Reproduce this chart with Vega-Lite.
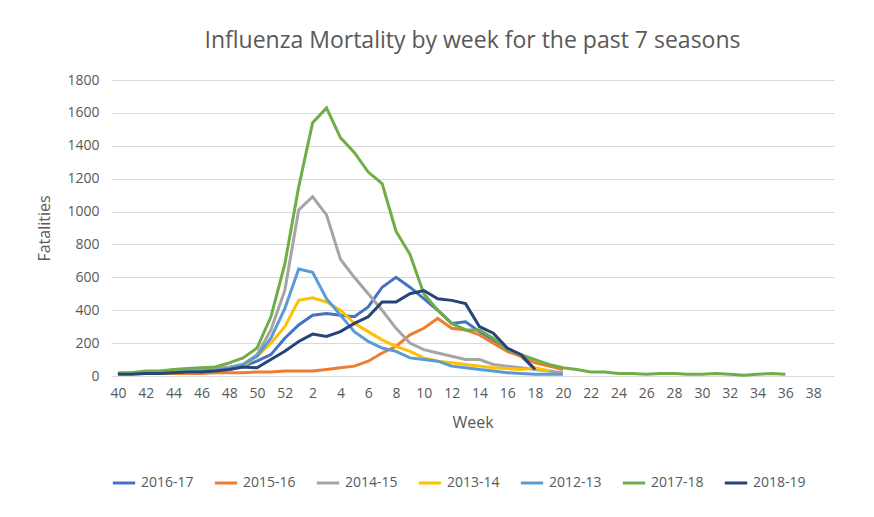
{
  "$schema": "https://vega.github.io/schema/vega-lite/v6.json",
  "width": 723,
  "height": 296,
  "padding": {"left": 36, "top": 30, "right": 20, "bottom": 10},
  "background": "white",
  "title": {"text": "Influenza Mortality by week for the past 7 seasons", "fontSize": 23, "font": "Open Sans", "fontWeight": "normal", "color": "#595959", "offset": 20},
  "config": {"view": {"stroke": null}, "font": "Open Sans"},
  "data": {"values": [
    {"w":"40","2016-17":15,"2015-16":15,"2014-15":20,"2013-14":15,"2012-13":15,"2017-18":15,"2018-19":10},
    {"w":"41","2016-17":15,"2015-16":15,"2014-15":20,"2013-14":15,"2012-13":15,"2017-18":20,"2018-19":10},
    {"w":"42","2016-17":20,"2015-16":15,"2014-15":25,"2013-14":15,"2012-13":20,"2017-18":30,"2018-19":15},
    {"w":"43","2016-17":20,"2015-16":15,"2014-15":25,"2013-14":20,"2012-13":20,"2017-18":30,"2018-19":15},
    {"w":"44","2016-17":25,"2015-16":15,"2014-15":30,"2013-14":20,"2012-13":25,"2017-18":40,"2018-19":20},
    {"w":"45","2016-17":30,"2015-16":15,"2014-15":35,"2013-14":20,"2012-13":25,"2017-18":45,"2018-19":25},
    {"w":"46","2016-17":30,"2015-16":15,"2014-15":40,"2013-14":25,"2012-13":30,"2017-18":50,"2018-19":25},
    {"w":"47","2016-17":35,"2015-16":20,"2014-15":45,"2013-14":30,"2012-13":35,"2017-18":55,"2018-19":30},
    {"w":"48","2016-17":40,"2015-16":20,"2014-15":55,"2013-14":40,"2012-13":45,"2017-18":80,"2018-19":40},
    {"w":"49","2016-17":60,"2015-16":20,"2014-15":70,"2013-14":60,"2012-13":70,"2017-18":110,"2018-19":55},
    {"w":"50","2016-17":90,"2015-16":25,"2014-15":130,"2013-14":120,"2012-13":120,"2017-18":170,"2018-19":50},
    {"w":"51","2016-17":130,"2015-16":25,"2014-15":280,"2013-14":200,"2012-13":230,"2017-18":360,"2018-19":100},
    {"w":"52","2016-17":230,"2015-16":30,"2014-15":520,"2013-14":300,"2012-13":410,"2017-18":680,"2018-19":150},
    {"w":"1","2016-17":310,"2015-16":30,"2014-15":1010,"2013-14":460,"2012-13":650,"2017-18":1150,"2018-19":210},
    {"w":"2","2016-17":370,"2015-16":30,"2014-15":1090,"2013-14":475,"2012-13":630,"2017-18":1540,"2018-19":255},
    {"w":"3","2016-17":380,"2015-16":40,"2014-15":980,"2013-14":450,"2012-13":470,"2017-18":1630,"2018-19":240},
    {"w":"4","2016-17":370,"2015-16":50,"2014-15":710,"2013-14":400,"2012-13":370,"2017-18":1450,"2018-19":270},
    {"w":"5","2016-17":360,"2015-16":60,"2014-15":600,"2013-14":320,"2012-13":270,"2017-18":1360,"2018-19":320},
    {"w":"6","2016-17":420,"2015-16":90,"2014-15":500,"2013-14":270,"2012-13":210,"2017-18":1240,"2018-19":360},
    {"w":"7","2016-17":540,"2015-16":140,"2014-15":400,"2013-14":220,"2012-13":170,"2017-18":1170,"2018-19":450},
    {"w":"8","2016-17":600,"2015-16":180,"2014-15":290,"2013-14":180,"2012-13":150,"2017-18":880,"2018-19":450},
    {"w":"9","2016-17":540,"2015-16":250,"2014-15":200,"2013-14":150,"2012-13":110,"2017-18":740,"2018-19":500},
    {"w":"10","2016-17":470,"2015-16":290,"2014-15":160,"2013-14":110,"2012-13":100,"2017-18":500,"2018-19":520},
    {"w":"11","2016-17":400,"2015-16":350,"2014-15":140,"2013-14":90,"2012-13":90,"2017-18":400,"2018-19":470},
    {"w":"12","2016-17":320,"2015-16":290,"2014-15":120,"2013-14":80,"2012-13":60,"2017-18":320,"2018-19":460},
    {"w":"13","2016-17":330,"2015-16":280,"2014-15":100,"2013-14":70,"2012-13":50,"2017-18":280,"2018-19":440},
    {"w":"14","2016-17":270,"2015-16":250,"2014-15":100,"2013-14":60,"2012-13":40,"2017-18":280,"2018-19":300},
    {"w":"15","2016-17":220,"2015-16":200,"2014-15":70,"2013-14":50,"2012-13":30,"2017-18":230,"2018-19":260},
    {"w":"16","2016-17":160,"2015-16":150,"2014-15":60,"2013-14":45,"2012-13":20,"2017-18":160,"2018-19":170},
    {"w":"17","2016-17":120,"2015-16":120,"2014-15":50,"2013-14":40,"2012-13":15,"2017-18":130,"2018-19":130},
    {"w":"18","2016-17":40,"2015-16":80,"2014-15":40,"2013-14":50,"2012-13":10,"2017-18":100,"2018-19":40},
    {"w":"19","2016-17":null,"2015-16":60,"2014-15":30,"2013-14":30,"2012-13":10,"2017-18":70,"2018-19":null},
    {"w":"20","2016-17":null,"2015-16":40,"2014-15":20,"2013-14":null,"2012-13":10,"2017-18":50,"2018-19":null},
    {"w":"21","2017-18":40},{"w":"22","2017-18":25},{"w":"23","2017-18":25},{"w":"24","2017-18":15},
    {"w":"25","2017-18":15},{"w":"26","2017-18":10},{"w":"27","2017-18":15},{"w":"28","2017-18":15},
    {"w":"29","2017-18":10},{"w":"30","2017-18":10},{"w":"31","2017-18":15},{"w":"32","2017-18":10},
    {"w":"33","2017-18":5},{"w":"34","2017-18":10},{"w":"35","2017-18":15},{"w":"36","2017-18":10},
    {"w":"37"},{"w":"38"},{"w":"39"}
  ]},
  "transform": [
    {"fold": ["2016-17","2015-16","2014-15","2013-14","2012-13","2017-18","2018-19"], "as": ["season","value"]},
    {"filter": "isValid(datum.value)"}
  ],
  "mark": {"type": "line", "strokeWidth": 3},
  "encoding": {
    "x": {"field": "w", "type": "ordinal",
      "scale": {"type": "point", "padding": 0.5, "domain": ["40","41","42","43","44","45","46","47","48","49","50","51","52","1","2","3","4","5","6","7","8","9","10","11","12","13","14","15","16","17","18","19","20","21","22","23","24","25","26","27","28","29","30","31","32","33","34","35","36","37","38","39"]},
      "axis": {"title": "Week", "titleFontSize": 16, "titleFontWeight": "normal", "titleColor": "#595959", "labelAngle": 0, "labelFontSize": 14, "labelColor": "#595959", "labelExpr": "toNumber(datum.value) % 2 == 0 ? datum.value : ''", "ticks": false, "grid": false, "domainColor": "#d9d9d9", "labelPadding": 10, "titlePadding": 14}},
    "y": {"field": "value", "type": "quantitative",
      "scale": {"domain": [0, 1800]},
      "axis": {"title": "Fatalities", "format": "d", "titleFontSize": 16, "titleFontWeight": "normal", "titleColor": "#595959", "values": [0,200,400,600,800,1000,1200,1400,1600,1800], "labelFontSize": 14, "labelColor": "#595959", "domain": false, "ticks": false, "gridColor": "#d9d9d9", "labelPadding": 12, "titlePadding": 14}},
    "color": {"field": "season", "type": "nominal",
      "scale": {"domain": ["2016-17","2015-16","2014-15","2013-14","2012-13","2017-18","2018-19"], "range": ["#4472C4","#ED7D31","#A5A5A5","#FFC000","#5B9BD5","#70AD47","#264478"]},
      "legend": {"orient": "bottom", "direction": "horizontal", "title": null, "symbolType": "stroke", "symbolStrokeWidth": 3, "symbolSize": 500, "labelFontSize": 14, "labelColor": "#595959", "columnPadding": 14, "offset": 40}}
  }
}
